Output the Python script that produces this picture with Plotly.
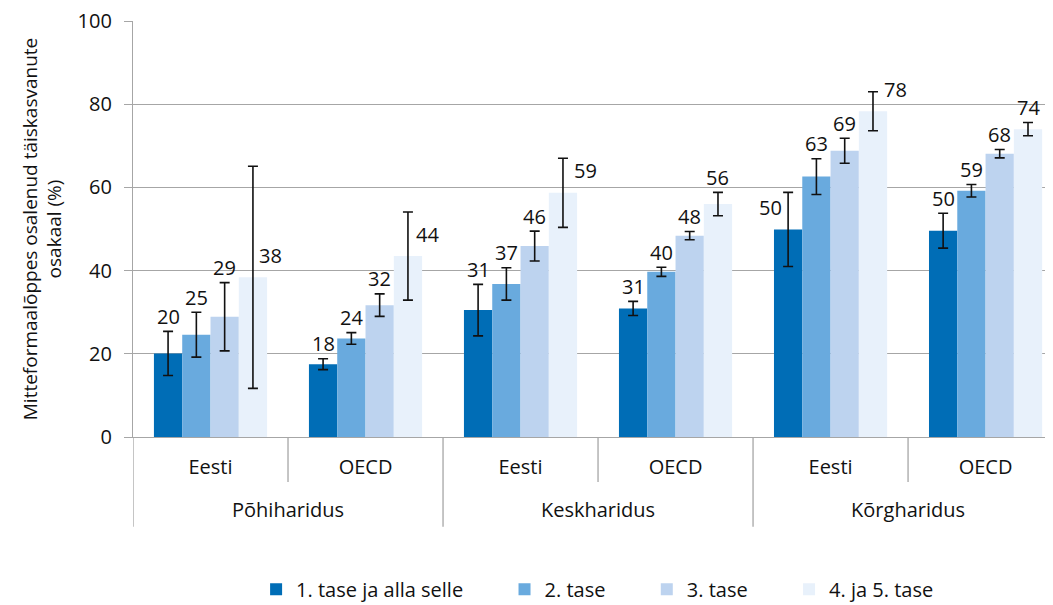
import plotly.graph_objects as go

# ---- data ----
education = ["Põhiharidus", "Põhiharidus", "Keskharidus", "Keskharidus", "Kõrgharidus", "Kõrgharidus"]
region = ["Eesti", "OECD", "Eesti", "OECD", "Eesti", "OECD"]
series_names = ["1. tase ja alla selle", "2. tase", "3. tase", "4. ja 5. tase"]

level1 = [20.1, 17.5, 30.5, 30.9, 49.9, 49.6]
level2 = [24.6, 23.7, 36.8, 39.7, 62.6, 59.2]
level3 = [28.9, 31.7, 45.9, 48.4, 68.8, 68.1]
level45 = [38.4, 43.5, 58.7, 56.0, 78.3, 74.0]

err1 = [5.3, 1.3, 6.2, 1.7, 8.9, 4.2]
err2 = [5.4, 1.4, 3.9, 1.1, 4.3, 1.5]
err3 = [8.2, 2.7, 3.6, 1.0, 3.0, 1.0]
err45 = [26.7, 10.6, 8.3, 2.8, 4.7, 1.6]

labels1 = ["20", "18", "31", "31", "50", "50"]
labels2 = ["25", "24", "37", "40", "63", "59"]
labels3 = ["29", "32", "46", "48", "69", "68"]
labels45 = ["38", "44", "59", "56", "78", "74"]

y_ticks = [0, 20, 40, 60, 80, 100]
y_title = "Mitteformaalõppes osalenud täiskasvanute<br>osakaal (%)"

# ---- style ----
colors = ["#006db6", "#69aade", "#bdd3ef", "#e8f1fb"]
FONT = "Open Sans"
TXT = "#111111"
GRID = "#a6a6a6"
BARGAP = 0.27
FS = 20
LEGEND_PAD = "\u00a0" * 7   # extra spacing after legend entries

values = [level1, level2, level3, level45]
errors = [err1, err2, err3, err45]
labels = [labels1, labels2, labels3, labels45]

# outer level shown one line lower (extra spacing below the inner level)
education_display = ["<br>" + e for e in education]

fig = go.Figure()
for k, (name, vals, errs, col) in enumerate(zip(series_names, values, errors, colors)):
    shown = name + (LEGEND_PAD if k < len(series_names) - 1 else "")
    fig.add_trace(go.Bar(
        x=[education_display, region], y=vals, name=shown,
        marker=dict(color=col, line=dict(width=0)),
        error_y=dict(type="data", array=errs, visible=True,
                     color="#111111", thickness=1.6, width=5),
    ))

# data labels: above the error bar, or beside it when the bar's interval is wide
side_labels = {(3, 0): 18, (3, 1): 20, (3, 2): 23, (3, 4): 23, (0, 4): -18}
n_series = len(series_names)
bar_w = (1 - BARGAP) / n_series
annotations = []
for s in range(n_series):
    offset = -(1 - BARGAP) / 2 + bar_w * (s + 0.5)
    for i in range(len(region)):
        if (s, i) in side_labels:
            y = values[s][i]
            xs, ys = side_labels[(s, i)], 22
        else:
            y = values[s][i] + errors[s][i]
            xs, ys = 0, 15
        annotations.append(dict(
            x=i + offset, y=y, xref="x", yref="y", text=labels[s][i],
            showarrow=False, xshift=xs, yshift=ys, yanchor="middle",
            font=dict(family=FONT, size=FS, color=TXT)))

# separators below the axis: short ones between regions, long ones between education groups
shapes = []
for i in range(0, len(region), 2):
    shapes.append(dict(type="line", xref="x", yref="paper",
                       x0=i + 0.5, x1=i + 0.5, y0=0, y1=-0.108,
                       line=dict(color=GRID, width=1.3)))
    shapes.append(dict(type="line", xref="x", yref="paper",
                       x0=i - 0.5, x1=i - 0.5, y0=0, y1=-0.216,
                       line=dict(color=GRID, width=1.3)))

fig.update_layout(
    width=1045, height=597,
    margin=dict(l=125, r=0, t=13, b=168, autoexpand=False),
    paper_bgcolor="white", plot_bgcolor="white",
    barmode="group", bargap=BARGAP, bargroupgap=0,
    font=dict(family=FONT, size=FS, color=TXT),
    showlegend=True,
    legend=dict(orientation="h", x=0.505, xanchor="center", y=-0.366, yanchor="middle",
                font=dict(family=FONT, size=FS, color=TXT), traceorder="normal"),
    annotations=annotations,
    shapes=shapes,
)
fig.update_xaxes(
    type="multicategory", range=[-0.5, 5.435], automargin=False,
    showline=True, linecolor=GRID, linewidth=1.3,
    ticks="", showdividers=False,
    ticklabelstandoff=12,
    tickfont=dict(family=FONT, size=FS, color=TXT),
    showgrid=False,
)
fig.update_yaxes(
    range=[0, 100], tickvals=y_ticks, ticks="outside", ticklen=8,
    tickcolor=GRID, tickwidth=1.3, automargin=False,
    ticklabeloverflow="allow",
    showline=True, linecolor=GRID, linewidth=1.3,
    showgrid=True, gridcolor=GRID, gridwidth=1.3,
    zeroline=False, ticklabelstandoff=8,
    tickfont=dict(family=FONT, size=FS, color=TXT),
    title=dict(text=y_title, font=dict(family=FONT, size=19, color=TXT), standoff=10),
)

fig.write_html("out.html")
